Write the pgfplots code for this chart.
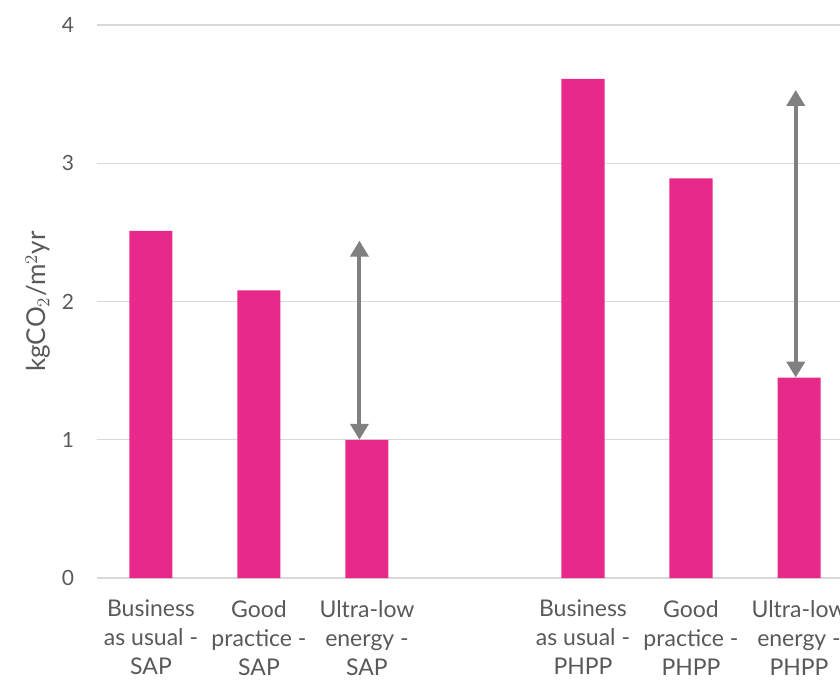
\documentclass[border=0pt]{standalone}
\usepackage{pgfplots}
\pgfplotsset{compat=1.18}
\usetikzlibrary{arrows.meta}
\usepackage{fontspec}
\setmainfont{Lato}
\definecolor{barpink}{RGB}{231,41,138}
\definecolor{txtgray}{RGB}{89,89,89}
\definecolor{gridgray}{RGB}{217,217,217}
\definecolor{arrowgray}{RGB}{128,128,128}
\begin{document}
\begin{tikzpicture}
\begin{axis}[
  at={(0,0)}, anchor=south west,
  scale only axis,
  width=378pt, height=276.5pt,
  xmin=-0.5, xmax=6.5,
  ymin=0, ymax=4,
  ytick={0,1,2,3,4},
  xtick={0,1,2,4,5,6},
  xticklabels={{Business\\as usual -\\SAP},{Good\\practice -\\SAP},{Ultra-low\\energy -\\SAP},{Business\\as usual -\\PHPP},{Good\\practice -\\PHPP},{Ultra-low\\energy -\\PHPP}},
  xticklabel style={align=center, font=\fontsize{11.5}{14.5}\selectfont, text=txtgray, yshift=-7.5pt},
  yticklabel style={font=\fontsize{10.5}{12}\selectfont, text=txtgray, xshift=-8pt},
  /pgf/number format/assume math mode=true,
  ymajorgrids, grid style={gridgray, line width=0.6pt},
  axis line style={draw=none},
  axis x line*=bottom,
  x axis line style={draw=gridgray, line width=0.6pt},
  major tick length=0pt,
  ylabel={kgCO$_2$/m$^2$yr},
  every axis y label/.style={at={(axis description cs:0,0.5)}, rotate=90, anchor=center, yshift=29.5pt, font=\fontsize{13}{15}\selectfont, text=txtgray},
  clip=false,
]
\addplot[ybar, bar width=21.5pt, fill=barpink, draw=none] coordinates {
  (0,2.51) (1,2.08) (2,1.00) (4,3.61) (5,2.89) (6,1.45)
};
\draw[arrowgray, line width=2pt, {Triangle[width=9pt,length=8pt]}-{Triangle[width=9pt,length=8pt]}] (axis cs:1.93,1.0) -- (axis cs:1.93,2.44);
\draw[arrowgray, line width=2pt, {Triangle[width=9pt,length=8pt]}-{Triangle[width=9pt,length=8pt]}] (axis cs:5.97,1.45) -- (axis cs:5.97,3.53);
\end{axis}
\pgfresetboundingbox
\path[use as bounding box] (-48.5pt,-54pt) rectangle (371.5pt,289pt);
\end{tikzpicture}
\end{document}
